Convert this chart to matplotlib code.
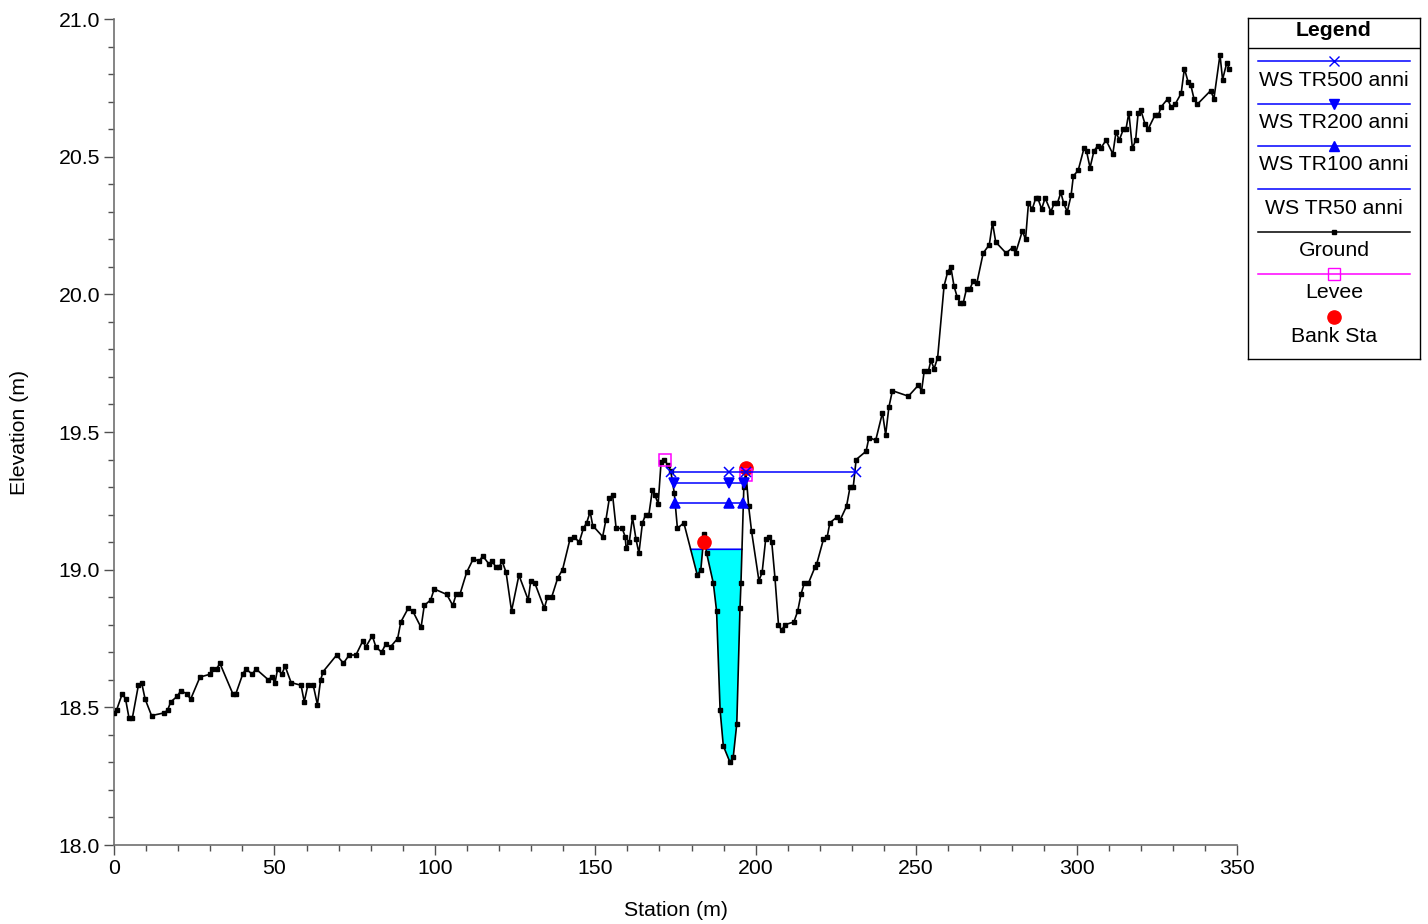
import numpy as np
import matplotlib
matplotlib.use("Agg")
import matplotlib.pyplot as plt

plt.rcParams['font.family'] = ['Liberation Sans', 'DejaVu Sans']

# ground profile (station m, elevation m) read from the cross section
station = [0.0, 0.8, 2.6, 3.6, 4.7, 5.7, 7.6, 8.6, 9.7, 11.7, 15.7, 16.7, 17.7,
           19.7, 20.8, 22.6, 23.9, 26.8, 29.9, 30.6, 32.0, 33.0, 37.0, 38.0,
           40.1, 41.1, 43.1, 44.2, 48.1, 49.1, 50.2, 51.0, 52.3, 53.3, 55.2,
           58.3, 59.3, 60.4, 62.1, 63.4, 64.4, 65.2, 69.4, 71.5, 73.3, 75.4,
           77.5, 78.5, 80.5, 81.6, 83.4, 84.7, 86.2, 88.4, 89.4, 91.7, 93.1,
           95.7, 96.7, 98.7, 99.8, 103.7, 105.6, 106.6, 107.8, 109.9, 112.0,
           113.8, 114.9, 116.9, 117.9, 119.0, 120.0, 121.0, 122.2, 123.9,
           126.2, 129.1, 129.9, 131.2, 134.1, 135.1, 136.4, 138.3, 139.8,
           142.1, 143.3, 145.0, 146.3, 147.3, 148.4, 149.2, 152.3, 153.3,
           154.4, 155.4, 156.5, 158.4, 159.3, 159.6, 160.6, 161.6, 162.7,
           163.6, 164.7, 165.7, 166.7, 167.8, 168.6, 169.6, 170.5, 171.5,
           172.6, 173.5, 174.6, 175.6, 177.6, 181.8, 182.9, 183.9, 184.7,
           186.8, 187.8, 188.9, 189.9, 192.0, 193.0, 194.1, 195.1, 195.4,
           196.3, 196.9, 197.8, 198.7, 201.0, 202.0, 203.1, 204.1, 205.0,
           206.0, 207.1, 208.1, 209.1, 211.9, 213.1, 214.1, 215.1, 216.4,
           218.5, 219.0, 221.1, 222.3, 223.1, 225.2, 226.3, 228.3, 229.4,
           230.4, 231.3, 234.4, 235.3, 237.4, 239.5, 240.5, 241.5, 242.6,
           247.6, 250.7, 251.7, 252.5, 253.8, 254.6, 255.6, 256.7, 258.7,
           259.8, 260.8, 261.8, 262.8, 263.7, 264.7, 265.7, 266.8, 267.8,
           268.9, 270.9, 272.8, 273.8, 274.8, 278.0, 280.1, 281.0, 283.1,
           284.1, 285.0, 286.2, 287.3, 287.9, 289.1, 290.2, 292.0, 293.0,
           294.0, 295.1, 296.0, 297.1, 298.3, 299.0, 300.5, 302.3, 303.1,
           304.2, 305.4, 306.6, 307.5, 309.2, 311.3, 312.3, 313.3, 314.6,
           315.4, 316.3, 317.4, 318.4, 319.2, 320.0, 321.3, 322.3, 324.4,
           325.5, 326.3, 328.4, 329.4, 330.7, 332.6, 333.6, 334.8, 335.6,
           336.6, 337.6, 341.8, 342.8, 344.7, 345.5, 346.8, 347.6]
ground = [18.48, 18.49, 18.55, 18.53, 18.46, 18.46, 18.58, 18.59, 18.53, 18.47,
          18.48, 18.49, 18.52, 18.54, 18.56, 18.55, 18.53, 18.61, 18.62, 18.64,
          18.64, 18.66, 18.55, 18.55, 18.62, 18.64, 18.62, 18.64, 18.60, 18.61,
          18.59, 18.64, 18.62, 18.65, 18.59, 18.58, 18.52, 18.58, 18.58, 18.51,
          18.60, 18.63, 18.69, 18.66, 18.69, 18.69, 18.74, 18.72, 18.76, 18.72,
          18.70, 18.73, 18.72, 18.75, 18.81, 18.86, 18.85, 18.79, 18.87, 18.89,
          18.93, 18.91, 18.87, 18.91, 18.91, 18.99, 19.04, 19.03, 19.05, 19.02,
          19.03, 19.01, 19.01, 19.03, 18.99, 18.85, 18.98, 18.89, 18.96, 18.95,
          18.86, 18.90, 18.90, 18.97, 19.00, 19.11, 19.12, 19.10, 19.15, 19.17,
          19.21, 19.16, 19.12, 19.18, 19.26, 19.27, 19.15, 19.15, 19.12, 19.08,
          19.10, 19.19, 19.11, 19.06, 19.17, 19.20, 19.20, 19.29, 19.27, 19.24,
          19.39, 19.40, 19.38, 19.36, 19.28, 19.15, 19.17, 18.98, 19.00, 19.13,
          19.06, 18.95, 18.85, 18.49, 18.36, 18.30, 18.32, 18.44, 18.86, 18.95,
          19.30, 19.36, 19.23, 19.14, 18.96, 18.99, 19.11, 19.12, 19.10, 18.97,
          18.80, 18.78, 18.80, 18.81, 18.85, 18.91, 18.95, 18.95, 19.01, 19.02,
          19.11, 19.12, 19.17, 19.19, 19.18, 19.23, 19.30, 19.30, 19.40, 19.43,
          19.48, 19.47, 19.57, 19.49, 19.59, 19.65, 19.63, 19.67, 19.65, 19.72,
          19.72, 19.76, 19.73, 19.77, 20.03, 20.08, 20.10, 20.03, 19.99, 19.97,
          19.97, 20.02, 20.02, 20.05, 20.04, 20.15, 20.18, 20.26, 20.19, 20.15,
          20.17, 20.15, 20.23, 20.20, 20.33, 20.31, 20.35, 20.35, 20.31, 20.35,
          20.30, 20.33, 20.33, 20.37, 20.33, 20.30, 20.36, 20.43, 20.45, 20.53,
          20.52, 20.46, 20.52, 20.54, 20.53, 20.56, 20.51, 20.59, 20.56, 20.60,
          20.60, 20.66, 20.53, 20.56, 20.66, 20.67, 20.62, 20.60, 20.65, 20.65,
          20.68, 20.71, 20.68, 20.69, 20.73, 20.82, 20.77, 20.76, 20.71, 20.69,
          20.74, 20.71, 20.87, 20.78, 20.84, 20.82]

# water surfaces: elevation, wetted extent and marker stations
ws_names = ['WS TR500 anni', 'WS TR200 anni', 'WS TR100 anni', 'WS TR50 anni']
ws_elev = [19.355, 19.313, 19.241, 19.074]
ws_from = [173.5, 174.6, 174.8, 179.0]
ws_to = [231.3, 196.3, 195.9, 196.0]
ws_marks = [[173.5, 191.8, 196.9, 231.3],
            [174.6, 191.8, 196.3],
            [174.8, 191.8, 195.9],
            []]
ws_symbol = ['x', 'v', '^', None]

levee_sta = [171.6, 196.9]
levee_elev = [19.40, 19.345]
bank_sta = [184.0, 196.9]
bank_elev = [19.10, 19.368]

W, H = 1428, 924
fig = plt.figure(figsize=(W / 100, H / 100), dpi=100)
ax = fig.add_axes([114 / W, 1 - 845 / H, (1237 - 114) / W, (845 - 19) / H])

sta = np.array(station)
gnd = np.array(ground)

# TR50 filled channel
xf = np.linspace(ws_from[3], ws_to[3], 3000)
gf = np.interp(xf, sta, gnd)
wet = gf < ws_elev[3]
ax.fill_between(xf, gf, ws_elev[3], where=wet, color='#00FFFF', lw=0, zorder=1)
ax.plot(xf, np.where(wet, ws_elev[3], np.nan), color='#0000FF', lw=1.2, zorder=2)

ax.plot(sta, gnd, color='black', lw=1.2, marker='s', ms=2.2, zorder=3)

ax.plot(bank_sta, bank_elev, ls='none', marker='o', ms=9.5, color='red', zorder=4)
ax.plot(levee_sta, levee_elev, ls='none', marker='s', ms=8.5, mfc='none',
        mec='#FF00FF', mew=1.1, zorder=5)

for i in range(3):
    ax.plot([ws_from[i], ws_to[i]], [ws_elev[i]] * 2, color='#0000FF', lw=1.1, zorder=6)
    ax.plot(ws_marks[i], [ws_elev[i]] * len(ws_marks[i]), ls='none',
            marker=ws_symbol[i], ms=7 if ws_symbol[i] == 'x' else 7.5,
            color='#0000FF', mew=1.1, zorder=6)

ax.set_xlim(0, 350)
ax.set_ylim(18.0, 21.0)
ax.set_xticks(np.arange(0, 351, 50))
ax.set_xticks(np.arange(0, 351, 10), minor=True)
ax.set_yticks(np.arange(18.0, 21.01, 0.5))
ax.set_yticks(np.arange(18.0, 21.01, 0.1), minor=True)
ax.set_yticklabels(['%.1f' % v for v in np.arange(18.0, 21.01, 0.5)])
for s in ['top', 'right']:
    ax.spines[s].set_visible(False)
for s in ['left', 'bottom']:
    ax.spines[s].set_color('#707070')
    ax.spines[s].set_linewidth(1.2)
ax.tick_params(which='major', length=7, width=1, color='#505050',
               labelsize=15.3, pad=3)
ax.tick_params(which='minor', length=4, width=1, color='#505050')
ax.set_xlabel('Station (m)', fontsize=15.3)
ax.set_ylabel('Elevation (m)', fontsize=15.3)
ax.xaxis.set_label_coords(0.5, -0.068)
ax.yaxis.set_label_coords(-0.076, 0.5)

# legend panel drawn as its own axes, HEC-RAS style (symbol line above text)
lx0, ly0, lx1, ly1 = 1248, 18, 1420, 359
lax = fig.add_axes([lx0 / W, 1 - ly1 / H, (lx1 - lx0) / W, (ly1 - ly0) / H])
lax.set_xlim(lx0, lx1)
lax.set_ylim(ly1, ly0)
lax.set_xticks([])
lax.set_yticks([])
for s in lax.spines.values():
    s.set_linewidth(1)
    s.set_color('black')
xc = (lx0 + lx1) / 2
lax.text(xc, 31, 'Legend', ha='center', va='center', fontsize=15.3, fontweight='bold')
lax.plot([lx0, lx1], [48, 48], color='black', lw=1)

entries = [(ws_names[0], '#0000FF', 'x', 61, 80),
           (ws_names[1], '#0000FF', 'v', 104, 122),
           (ws_names[2], '#0000FF', '^', 146, 165),
           (ws_names[3], '#0000FF', None, 189, 208),
           ('Ground', 'black', 's', 232, 250),
           ('Levee', '#FF00FF', 'S', 274, 293)]
for name, col, mk, yl, yt in entries:
    lax.plot([1258, 1410], [yl, yl], color=col, lw=1.1)
    if mk == 'S':
        lax.plot([xc], [yl], marker='s', ms=8.5, mfc='none', mec=col, mew=1)
    elif mk is not None:
        lax.plot([xc], [yl], marker=mk, ms=2.2 if mk == 's' else 6.5,
                 color=col, mew=1)
    lax.text(xc, yt, name, ha='center', va='center', fontsize=15.3)
lax.plot([xc], [317], marker='o', ms=9.5, color='red', ls='none')
lax.text(xc, 336, 'Bank Sta', ha='center', va='center', fontsize=15.3)

fig.savefig('out.png', dpi=100)
